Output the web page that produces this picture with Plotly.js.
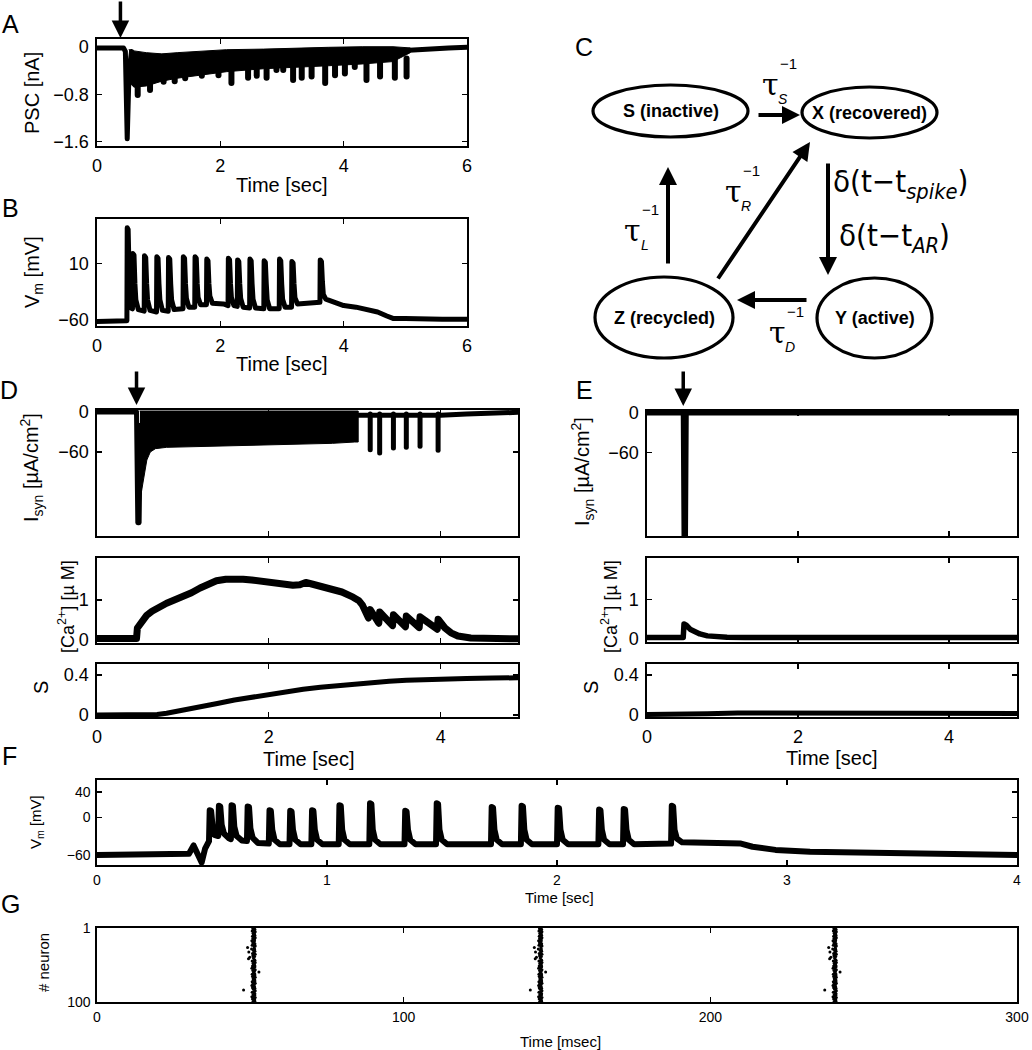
<!DOCTYPE html>
<html><head><meta charset="utf-8">
<script src="https://cdn.plot.ly/plotly-3.0.1.min.js"></script>
<style>html,body{margin:0;padding:0;background:#fff}
path.js-line{stroke-linejoin:round;stroke-linecap:round}</style>
</head><body><div id="chart" style="width:1032px;height:1050px"></div>
<script>
// ---------------- DATA ----------------
// A: PSC [nA]
const pscT = [0, 0.43, 0.46, 0.475, 0.49, 0.52, 0.56];
const pscV = [-0.02, -0.02, -0.08, -1.55, -1.55, -0.4, -0.08];
const pscBandT = [0.52, 0.6, 0.8, 1.05, 1.3, 1.6, 2.1, 2.7, 3.2, 3.75, 4.3, 4.8, 5.08];
const pscBandUp = [-0.05, -0.07, -0.1, -0.12, -0.1, -0.08, -0.05, -0.04, -0.02, -0.01, 0, 0, -0.02];
const pscBandLo = [-0.6, -0.68, -0.66, -0.58, -0.53, -0.49, -0.42, -0.37, -0.34, -0.32, -0.29, -0.25, -0.1];
const pscTailT = [5.06, 5.2, 5.4, 5.7, 6.0];
const pscTailV = [-0.06, -0.05, -0.03, -0.02, -0.01];
const pscSpikeT = [0.66, 0.86, 1.08, 1.26, 1.43, 1.70, 1.97, 2.18, 2.45, 2.59, 2.75, 2.91, 3.02, 3.18, 3.32, 3.48, 3.70, 3.86, 4.02, 4.18, 4.37, 4.59, 4.83, 5.02];
const pscSpikeV = [-0.81, -0.73, -0.59, -0.58, -0.53, -0.49, -0.48, -0.61, -0.52, -0.49, -0.52, -0.39, -0.39, -0.56, -0.52, -0.50, -0.61, -0.48, -0.45, -0.34, -0.56, -0.50, -0.52, -0.50];

// B: Vm [mV]
const vmT = [0,0.2,0.45,0.485,0.49,0.505,0.52,0.535,0.55,
 0.575,0.58,0.60,0.615,0.63,0.67,
 0.765,0.77,0.79,0.805,0.82,0.86,
 0.965,0.97,0.99,1.005,1.02,1.06,
 1.155,1.16,1.18,1.195,1.21,1.25,
 1.395,1.40,1.42,1.435,1.45,1.49,
 1.585,1.59,1.61,1.625,1.64,1.68,
 1.775,1.78,1.80,1.815,1.83,1.87,2.05,
 2.125,2.13,2.15,2.165,2.18,2.22,
 2.275,2.28,2.30,2.315,2.33,2.37,
 2.475,2.48,2.50,2.515,2.53,2.57,
 2.705,2.71,2.73,2.745,2.76,2.80,
 2.955,2.96,2.98,2.995,3.01,3.05,
 3.155,3.16,3.18,3.195,3.21,3.25,3.45,3.6,
 3.615,3.62,3.64,3.655,3.67,3.71,
 3.85,4.0,4.2,4.4,4.55,4.7,4.8,5.0,5.3,5.6,6.0];
const vmV = [-62,-62,-61.5,-61,55,53,0,-40,-45,
 -46,23,21,-15,-35,-47,
 -49,20,18,-15,-35,-48,
 -50,19,17,-15,-35,-48,
 -49,18,16,-15,-35,-47,
 -46,19,17,-15,-33,-44,
 -44,19,17,-15,-32,-41,
 -41,16,14,-15,-30,-39,-40,
 -42,17,15,-15,-32,-42,
 -43,15,13,-15,-33,-44,
 -45,16,14,-15,-34,-45,
 -46,14,12,-15,-35,-46,
 -46,16,14,-15,-34,-44,
 -44,13,11,-15,-32,-40,-39,-38,
 -38,15,13,-12,-28,-34,
 -38,-42,-44,-48,-50,-55,-58,-58,-59,-59,-59];

// D: Isyn, Ca, S (with astrocyte)
const dIsynT = [0, 0.46, 0.475, 0.49, 0.505];
const dIsynV = [0, 0, -166, -166, -20];
const dBandT = [0.50, 0.51, 0.55, 0.58, 0.62, 0.68, 0.81, 1.2, 1.59, 1.97, 2.36, 2.74, 3.0, 3.04];
const dBandUp = [1.5, 1.5, 1.5, 1.5, 1.5, 1.5, 1.5, 1.5, 1.5, 1.5, 1.5, 1.5, 1.5, 1.5];
const dBandLo = [-150, -125, -95, -72, -60, -55, -53, -51, -51, -49, -48, -47, -45, -45];
const dIsynTailT = [3.03, 4.0, 4.3, 4.6, 4.9];
const dIsynTailV = [-5, -5, -3, -1.5, -0.5];
const dSpikeT = [3.18, 3.29, 3.45, 3.60, 3.76, 3.97];
const dSpikeV = [-56.5, -61.5, -54, -53, -51.5, -57.5];
const dCaT = [0,0.46,0.47,0.5,0.53,0.58,0.64,0.7,0.81,0.9,1.0,1.1,1.2,1.3,1.39,1.5,1.58,1.7,1.8,1.97,2.1,2.28,2.36,2.43,2.5,2.6,2.74,2.85,2.98,3.05,3.09,
 3.16,3.18,3.28,3.29,3.44,3.45,3.59,3.60,3.75,3.76,3.96,3.97,4.05,4.12,4.2,4.35,4.6,4.9];
const dCaV = [0.04,0.04,0.3,0.38,0.5,0.62,0.72,0.8,0.92,1.0,1.08,1.18,1.3,1.4,1.48,1.52,1.53,1.52,1.5,1.44,1.4,1.37,1.38,1.44,1.4,1.35,1.27,1.2,1.07,0.98,0.87,
 0.55,0.76,0.42,0.70,0.36,0.63,0.33,0.6,0.31,0.58,0.27,0.52,0.3,0.18,0.1,0.05,0.03,0.03];
const dST = [0,0.5,0.7,0.81,1.0,1.2,1.4,1.6,1.8,2.0,2.2,2.4,2.6,2.8,3.0,3.2,3.4,3.6,3.8,4.0,4.3,4.6,4.9];
const dSV = [0,0,0.005,0.017,0.045,0.08,0.115,0.15,0.18,0.21,0.235,0.258,0.278,0.295,0.31,0.325,0.337,0.347,0.355,0.36,0.366,0.37,0.372];

// E: Isyn, Ca, S (without astrocyte)
const eIsynT = [0, 0.48, 0.49, 0.51, 0.52, 4.9];
const eIsynV = [0, 0, -186, -186, 0, 0];
const eCaT = [0, 0.48, 0.49, 0.52, 0.57, 0.7, 0.8, 0.88, 1.06, 1.3, 4.9];
const eCaV = [0.04, 0.04, 0.38, 0.35, 0.25, 0.13, 0.08, 0.06, 0.045, 0.04, 0.04];
const eST = [0, 0.5, 0.8, 1.2, 1.8, 2.5, 3.5, 4.9];
const eSV = [0.005, 0.005, 0.012, 0.02, 0.022, 0.021, 0.018, 0.016];

// F: Vm [mV]
const fT = [0,0.2,0.40,0.42,0.44,0.455,0.47,0.487,
 0.49,0.496,0.502,0.51,0.527,
 0.53,0.536,0.542,0.552,0.575,0.582,
 0.585,0.591,0.597,0.607,0.63,0.652,
 0.655,0.661,0.667,0.677,0.70,0.747,
 0.75,0.756,0.762,0.772,0.795,0.837,
 0.84,0.846,0.852,0.862,0.885,0.932,
 0.935,0.941,0.947,0.957,0.98,1.051,
 1.054,1.06,1.066,1.076,1.099,1.184,
 1.187,1.193,1.199,1.209,1.232,1.337,
 1.34,1.346,1.352,1.362,1.385,1.474,
 1.477,1.483,1.489,1.499,1.522,1.713,
 1.716,1.722,1.728,1.738,1.761,1.843,
 1.846,1.852,1.858,1.868,1.891,2.0,
 2.003,2.009,2.015,2.025,2.048,2.18,
 2.183,2.189,2.195,2.205,2.228,2.287,
 2.29,2.296,2.302,2.312,2.335,2.496,
 2.499,2.505,2.511,2.521,2.544,
 2.7,2.8,2.85,2.95,3.1,3.3,3.6,3.9,4.0];
const fV = [-60,-59,-58,-45,-58,-72,-50,-38,
 11,10,-12,-28,-30,
 18,17,-12,-26,-34,-35,
 19,18,-15,-30,-37,-38,
 17,16,-18,-33,-41,-42,
 11,10,-20,-36,-43,-43,
 10,9,-20,-36,-43,-43,
 11,10,-20,-36,-43,-43,
 19,18,-20,-36,-43,-43,
 22,21,-20,-36,-43,-43,
 10,9,-20,-36,-43,-43,
 22,21,-20,-36,-43,-43,
 16,15,-20,-36,-43,-43,
 18,17,-20,-36,-43,-43,
 15,14,-20,-36,-43,-43,
 12,11,-20,-36,-43,-43,
 13,12,-20,-36,-43,-42,
 18,17,-20,-34,-40,
 -40,-42,-47,-52,-55,-56,-57,-58,-60];

// G: raster
const burstTimes = [51, 144.5, 240.5];
const neuronOffsets = [0.3,-0.2,0.5,0.1,-0.4,0.6,0.2,-0.1,0.4,0.0, 0.5,-0.3,0.2,0.6,-0.2,0.1,0.4,-0.5,0.3,0.0,
 -0.2,0.5,0.1,-0.4,0.6,0.2,-1.9,0.3,-0.6,0.4, 0.0,0.5,-1.5,0.2,-0.3,0.6,0.1,-0.2,0.4,-1.2,
 0.0,-1.6,0.3,0.5,-0.4,0.2,0.6,-0.1,0.3,0.0, 0.4,-0.3,0.5,0.1,-0.5,0.2,0.6,-0.2,0.3,1.8,
 0.0,0.4,-0.4,0.5,0.1,-0.3,0.6,0.2,-0.1,0.4, 0.0,0.5,-0.4,0.2,0.6,-0.2,0.3,-0.5,0.1,0.4,
 -0.3,0.5,0.0,-3.2,0.6,0.2,-0.4,0.3,0.5,-0.1, 0.4,0.0,-0.5,0.6,0.2,-0.3,0.4,0.1,0.5,-0.2];

// tick labels
const ticksA_x = [0,2,4,6], ticksA_y = [-1.6,-0.8,0];
const ticksB_x = [0,2,4,6], ticksB_y = [-60,10];
const ticksDE_x = [0,2,4], ticksIsyn = [-60,0], ticksCa = [0,1], ticksS = [0,0.4];
const ticksF_x = [0,1,2,3,4], ticksF_y = [-60,0,40];
const ticksG_x = [0,100,200,300], ticksG_y = [1,100];

// diagram
const nodeLabels = ['S (inactive)','X (recovered)','Z (recycled)','Y (active)'];
const rateSubs = ['S','R','L','D'];

// ---------------- LAYOUT HELPERS ----------------
const W=1032,H=1050;
const FONT='Liberation Sans, Arial, sans-serif';
const NARROW='Liberation Sans Narrow, Liberation Sans, Arial, sans-serif';
const xd=(a,b)=>[a/W,b/W];
const yd=(top,bot)=>[1-bot/H,1-top/H];
function axis(dom,range,tickvals,extra){
  return Object.assign({domain:dom,range:range,tickvals:tickvals,ticks:'inside',ticklen:5,tickwidth:1.2,
    tickcolor:'#000',showline:true,linecolor:'#000',linewidth:1.6,mirror:'ticks',showgrid:false,zeroline:false,
    tickfont:{family:FONT,size:18,color:'#000'},fixedrange:true,ticklabelstandoff:3},extra||{});
}
const layout={width:W,height:H,margin:{l:0,r:0,t:0,b:0},paper_bgcolor:'#fff',plot_bgcolor:'#fff',
  showlegend:false,shapes:[],annotations:[]};
function setAxes(i,xdom,xr,xt,ydom,yr,yt,xextra,yextra){
  const xs=i===1?'':String(i);
  layout['xaxis'+xs]=axis(xdom,xr,xt,Object.assign({anchor:'y'+xs},xextra||{}));
  layout['yaxis'+xs]=axis(ydom,yr,yt,Object.assign({anchor:'x'+xs},yextra||{}));
}
const smallTick={tickfont:{family:NARROW,size:14,color:'#000'},ticklabelstandoff:2};
setAxes(1, xd(97,467),[0,6],ticksA_x, yd(39,146),[-1.67,0.13],ticksA_y);
setAxes(2, xd(97,467),[0,6],ticksB_x, yd(219,326),[-67.5,66],ticksB_y);
setAxes(3, xd(97,518),[0,4.9],ticksDE_x, yd(410,536),[-186,3],ticksIsyn,{showticklabels:false});
setAxes(4, xd(97,518),[0,4.9],ticksDE_x, yd(558,643),[-0.075,2.05],ticksCa,{showticklabels:false});
setAxes(5, xd(97,518),[0,4.9],ticksDE_x, yd(664,717),[-0.02,0.51],ticksS);
setAxes(6, xd(647,1017),[0,4.9],ticksDE_x, yd(411,536),[-186,3],ticksIsyn,{showticklabels:false});
setAxes(7, xd(647,1017),[0,4.9],ticksDE_x, yd(558,642),[-0.075,2.05],ticksCa,{showticklabels:false});
setAxes(8, xd(647,1017),[0,4.9],ticksDE_x, yd(664,717),[-0.02,0.51],ticksS);
setAxes(9, xd(97,1017),[0,4],ticksF_x, yd(780,865),[-76,59],ticksF_y, smallTick, smallTick);
setAxes(10, xd(97,1017),[0,300],ticksG_x, yd(928,1002),[100,1],ticksG_y, smallTick, smallTick);
layout.xaxis11={domain:xd(520,1032),range:[520,1032],visible:false,fixedrange:true,anchor:'y11'};
layout.yaxis11={domain:yd(30,370),range:[370,30],visible:false,fixedrange:true,anchor:'x11'};

// ---------------- TRACES ----------------
const traces=[];
const K='#000';
function line(x,y,i,w){const s=i===1?'':String(i);traces.push({type:'scatter',mode:'lines',x:x,y:y,xaxis:'x'+s,yaxis:'y'+s,line:{color:K,width:w},hoverinfo:'skip'});}
function band(x,up,lo,i){const s=i===1?'':String(i);
  traces.push({type:'scatter',mode:'lines',x:x.concat(x.slice().reverse()),y:up.concat(lo.slice().reverse()),
   fill:'toself',fillcolor:K,line:{color:K,width:1},xaxis:'x'+s,yaxis:'y'+s,hoverinfo:'skip'});}
function fingers(t,v,top,i,w){const x=[],y=[];t.forEach((tt,k)=>{x.push(tt,tt,null);y.push(top,v[k],null);});line(x,y,i,w);}

// A
line(pscT,pscV,1,5); band(pscBandT,pscBandUp,pscBandLo,1); line(pscTailT,pscTailV,1,5);
fingers(pscSpikeT,pscSpikeV,-0.2,1,6);
// B
line(vmT,vmV,2,5);
// D
line(dIsynT,dIsynV,3,5); band(dBandT,dBandUp,dBandLo,3); line(dIsynTailT,dIsynTailV,3,5);
fingers(dSpikeT,dSpikeV,-3,3,5);
line(dCaT,dCaV,4,7);
line(dST,dSV,5,5);
// E
line(eIsynT,eIsynV,6,5);
line(eCaT,eCaV,7,5.5);
line(eST,eSV,8,5);
// F
line(fT,fV,9,6);
// G
const gx=[],gy=[];
burstTimes.forEach(b=>neuronOffsets.forEach((o,k)=>{gx.push(b+o);gy.push(k+1);}));
traces.push({type:'scatter',mode:'markers',x:gx,y:gy,xaxis:'x10',yaxis:'y10',marker:{color:K,size:3},hoverinfo:'skip'});
traces.push({type:'scatter',mode:'markers',x:[520],y:[30],xaxis:'x11',yaxis:'y11',marker:{opacity:0},hoverinfo:'skip'});

// ---------------- ANNOTATIONS ----------------
const A=layout.annotations;
function txt(text,x,y,size,opts){A.push(Object.assign({text:text,xref:'paper',yref:'paper',x:x/W,y:1-y/H,
  xanchor:'center',yanchor:'middle',showarrow:false,font:{family:FONT,size:size,color:'#000'}},opts||{}));}
[['A',10,24],['B',10,208],['C',584,47],['D',9,390],['E',584,390],['F',9,756],['G',10,904]]
 .forEach(p=>txt(p[0],p[1],p[2],25));
const rot={textangle:-90};
txt('PSC [nA]',32,93,20,rot);
txt('V<sub>m</sub> [mV]',34,272,20,rot);
txt('I<sub>syn</sub> [µA/cm<sup>2</sup>]',31,468,20,rot);
txt('[Ca<sup>2+</sup>] [µ M]',66,607,18,rot);
txt('S',41,688,20,rot);
txt('I<sub>syn</sub> [µA/cm<sup>2</sup>]',582,472,20,rot);
txt('[Ca<sup>2+</sup>] [µ M]',609,607,18,rot);
txt('S',591,688,20,rot);
txt('V<sub>m</sub> [mV]',36,822,15,{textangle:-90,font:{family:NARROW,size:15,color:'#000'}});
txt('# neuron',43,963,15,{textangle:-90,font:{family:NARROW,size:15,color:'#000'}});
txt('Time [sec]',282,185,20); txt('Time [sec]',282,364,20);
txt('Time [sec]',309,759,20); txt('Time [sec]',832,758,20);
txt('Time [sec]',559,897,15,{font:{family:NARROW,size:15,color:'#000'}});
txt('Time [msec]',560,1041,15,{font:{family:NARROW,size:15,color:'#000'}});
function stim(xaxis,t,yHead,len){A.push({xref:xaxis,yref:'paper',x:t,y:1-yHead/H,ax:0,ay:-len,showarrow:true,
  arrowhead:2,arrowsize:1,arrowwidth:3.5,arrowcolor:K,text:''});}
stim('x',0.38,38,38); stim('x3',0.46,405,35); stim('x6',0.48,406,36);

// diagram C
const nodeBox=[[593,748,85,137],[802,937,87,138],[595,733,277,358],[817,932,278,358]];
nodeLabels.forEach((lab,k)=>{const b=nodeBox[k];
  layout.shapes.push({type:'circle',xref:'x11',yref:'y11',x0:b[0],x1:b[1],y0:b[2],y1:b[3],line:{color:K,width:3.2}});
  A.push({text:'<b>'+lab+'</b>',xref:'x11',yref:'y11',x:(b[0]+b[1])/2,y:(b[2]+b[3])/2,showarrow:false,
    font:{family:NARROW,size:18,color:K}});});
const arrows=[[757,115,800,115],[828,162,828,275],[808,300,737,300],[668,265,668,167],[717,280,810,142]];
arrows.forEach(a=>A.push({xref:'x11',yref:'y11',axref:'x11',ayref:'y11',ax:a[0],ay:a[1],x:a[2],y:a[3],
  showarrow:true,arrowhead:2,arrowsize:0.9,arrowwidth:4,arrowcolor:K,text:''}));
const tauPos=[[770,84],[733,191],[632,230],[777,332]];
rateSubs.forEach((s,k)=>{const p=tauPos[k];
  A.push({text:'τ',xref:'x11',yref:'y11',x:p[0],y:p[1],showarrow:false,font:{family:'DejaVu Serif, Liberation Serif, serif',size:30,color:K}});
  A.push({text:'−1',xref:'x11',yref:'y11',x:p[0]+18,y:p[1]-21,showarrow:false,font:{family:FONT,size:15,color:K}});
  A.push({text:'<i>'+s+'</i>',xref:'x11',yref:'y11',x:p[0]+13,y:p[1]+15,showarrow:false,font:{family:FONT,size:14,color:K}});});
const DFONT='DejaVu Sans Condensed, DejaVu Sans, sans-serif';
A.push({text:'δ(t−t<sub><i>spike</i></sub>)',xref:'x11',yref:'y11',x:831,y:183,xanchor:'left',showarrow:false,font:{family:DFONT,size:31,color:K}});
A.push({text:'δ(t−t<sub><i>AR</i></sub>)',xref:'x11',yref:'y11',x:837,y:237,xanchor:'left',showarrow:false,font:{family:DFONT,size:31,color:K}});

Plotly.newPlot('chart',traces,layout,{displayModeBar:false,staticPlot:true});
</script></body></html>
